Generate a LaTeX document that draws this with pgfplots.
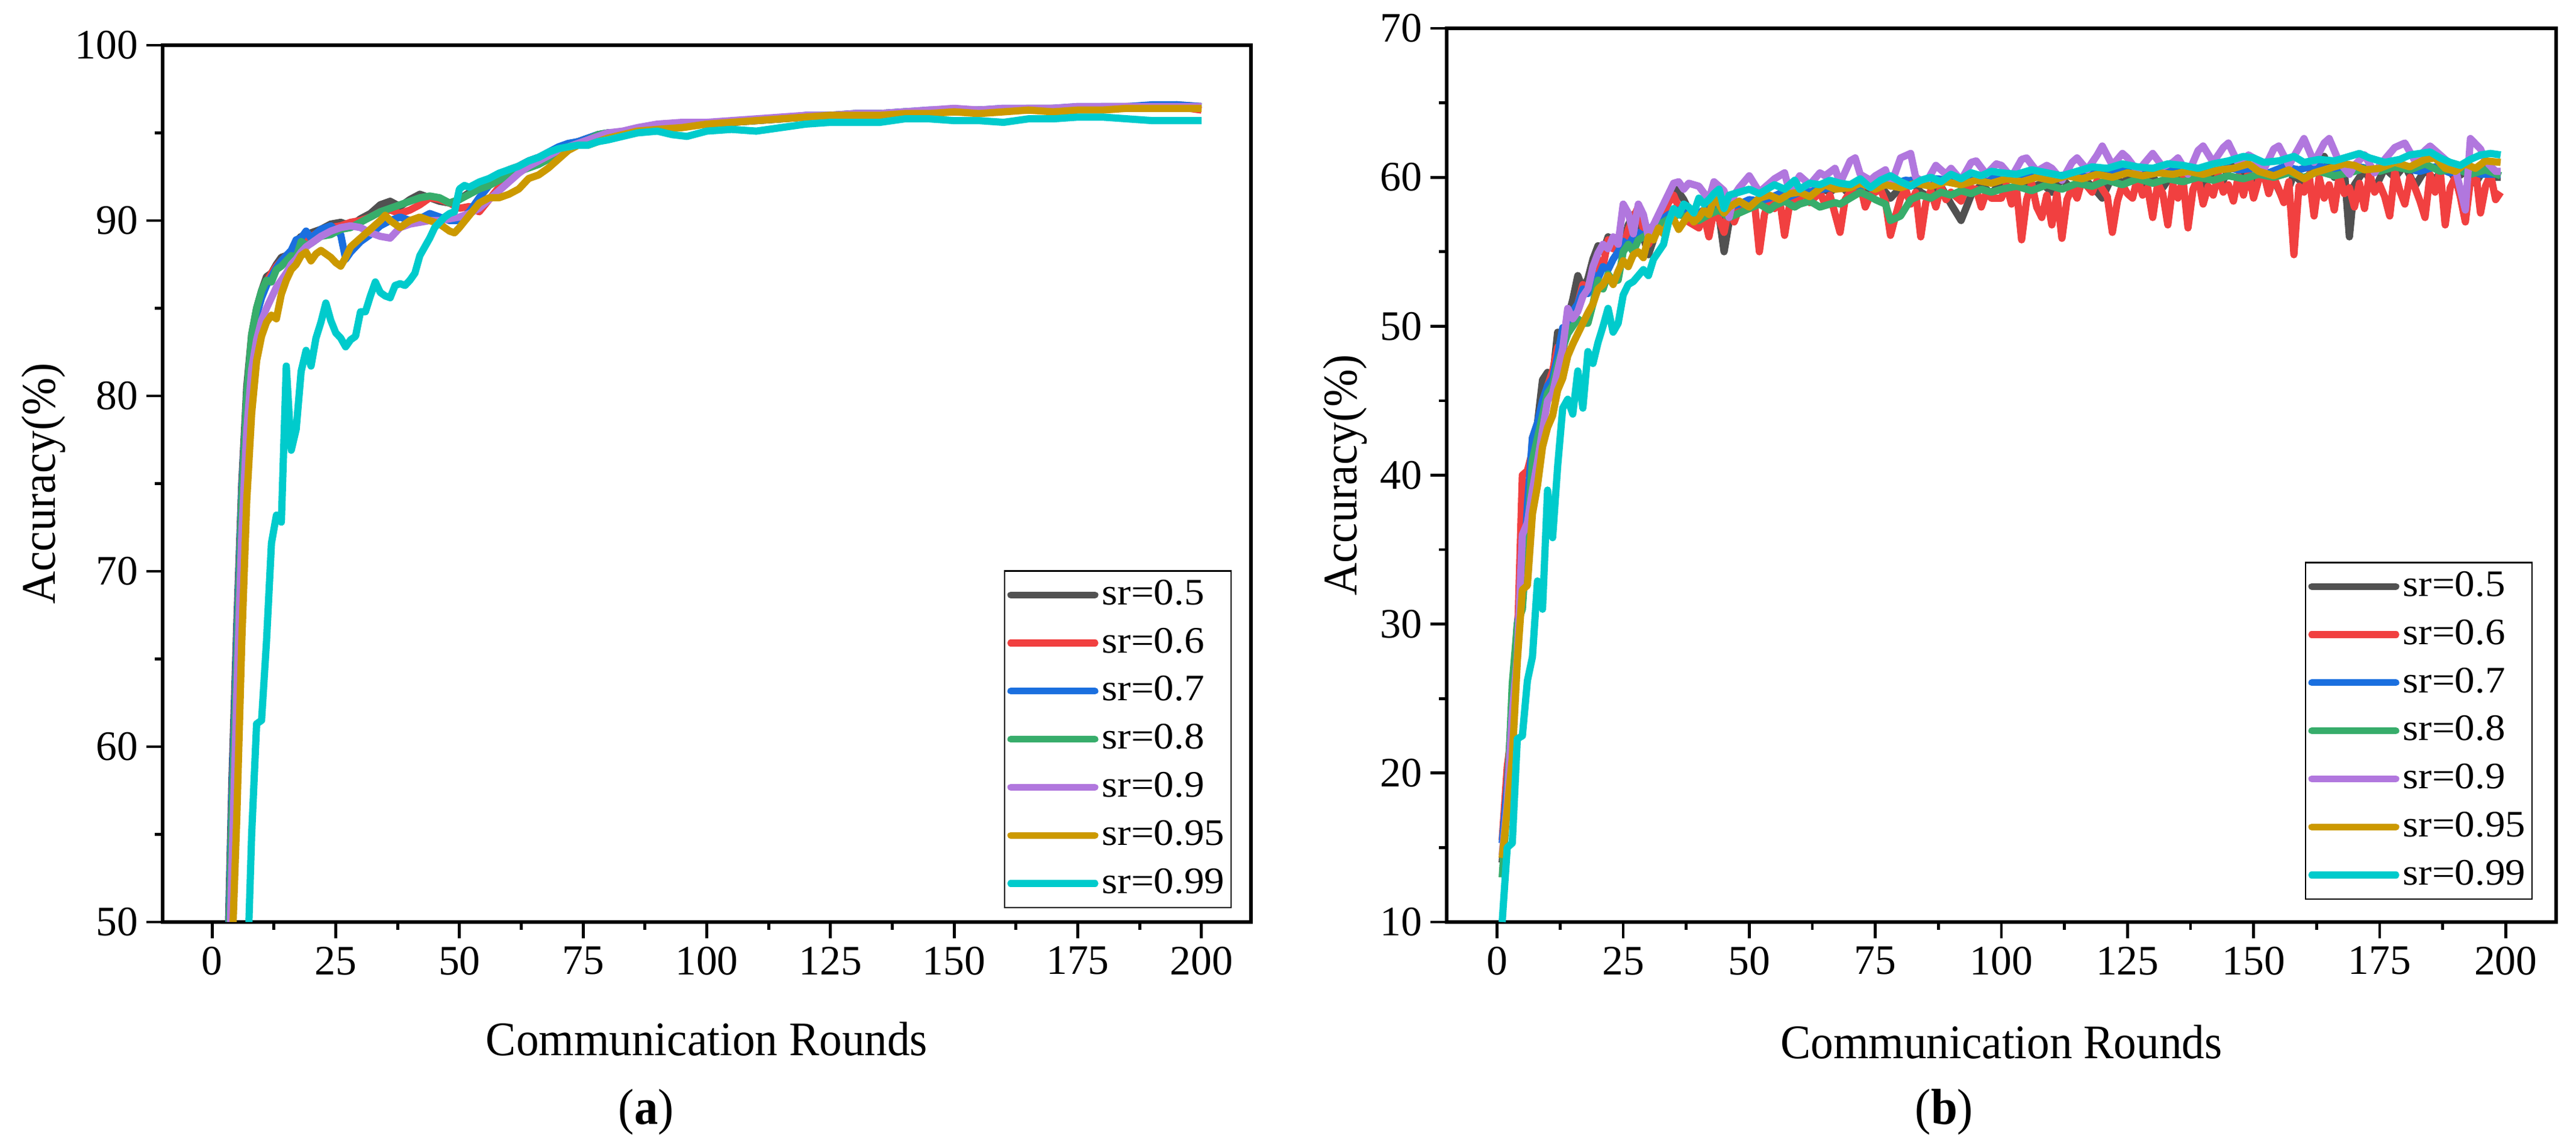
\documentclass[border=0pt]{standalone}
\usepackage{fontspec}
\setmainfont{Liberation Serif}
\newfontfamily\tickfont{Liberation Serif}
\newfontfamily\labfont{Liberation Serif}[FakeStretch=0.94]
\newfontfamily\legfont{Liberation Serif}[FakeStretch=1.08]
\usepackage{pgfplots}
\pgfplotsset{compat=1.18}
\definecolor{c1}{HTML}{515151}
\definecolor{c2}{HTML}{F14040}
\definecolor{c3}{HTML}{1A6FDF}
\definecolor{c4}{HTML}{37AD6B}
\definecolor{c5}{HTML}{B177DE}
\definecolor{c6}{HTML}{CC9900}
\definecolor{c7}{HTML}{00CBCC}
\pgfplotsset{
  myaxis/.style={
    scale only axis,
    xmin=-10, xmax=210,
    xtick={0,25,...,200},
    minor x tick num=1,
    minor y tick num=1,
    tick align=outside,
    tick pos=left,
    axis line style={line width=1.5pt},
    every tick/.style={black, line width=1.2pt},
    major tick length=6.7pt,
    minor tick length=3.3pt,
    /pgf/number format/assume math mode=true,
    tick label style={font=\tickfont\fontsize{17.4}{20}\selectfont},
    label style={font=\labfont\fontsize{20}{24}\selectfont},
    xlabel={Communication Rounds},
    ylabel={Accuracy(\%)},
    legend image code/.code={\draw[#1, line width=2.8pt, line cap=round] (0pt,0pt) -- (35pt,0pt);},
    legend style={draw=black, line width=0.6pt, font=\legfont\fontsize{15.5}{17}\selectfont,
      row sep=2.45pt, inner sep=1.2pt,
      nodes={inner sep=1.5pt, text height=11.3pt, text depth=3.2pt}},
    legend cell align=left,
    every axis plot/.append style={line width=3pt, line join=round},
  }
}
\begin{document}
\begin{tikzpicture}[x=1pt,y=1pt]
\useasboundingbox (0,0) rectangle (1069.25,474.75);
% ---------------- (a) ----------------
\begin{axis}[myaxis,
  at={(67.5pt,92.25pt)}, anchor=south west,
  width=451.75pt, height=363.75pt,
  ymin=50, ymax=100, ytick={50,60,...,100},
  xlabel style={at={(axis description cs:0.5,0)}, anchor=base, yshift=-55.5pt},
  ylabel style={at={(axis description cs:-0.1096,0.5)}, anchor=center},
  legend style={at={(1,0)}, anchor=south east, xshift=-8pt, yshift=5.75pt},
]
\addplot[c1] coordinates {(1,22)(2,34)(3,46)(4,58)(5,67)(6,75)(7,80.5)(8,83.5)(9,85)(10,86)(11,86.8)(12,87)(13,87.5)(14,87.9)(15,88)(16,88.1)(17,88.8)(18,89.1)(19,88.9)(20,89.3)(22,89.5)(24,89.8)(26,89.9)(28,89.7)(30,90.1)(32,90.4)(34,90.9)(36,91.1)(38,90.8)(40,91.2)(42,91.5)(44,91.3)(46,91.1)(48,91.0)(50,91.2)(52,91.6)(54,92.0)(56,92.3)(58,92.6)(60,92.9)(62,93.1)(64,93.4)(66,93.6)(68,93.8)(70,94.1)(72,94.3)(74,94.5)(76,94.7)(78,94.9)(80,95.0)(83,95.0)(86,95.2)(90,95.3)(95,95.5)(100,95.6)(105,95.6)(110,95.7)(115,95.8)(120,95.9)(125,96.0)(130,96.1)(135,96.1)(140,96.2)(145,96.2)(150,96.3)(155,96.3)(160,96.3)(165,96.4)(170,96.4)(175,96.4)(180,96.5)(185,96.5)(190,96.5)(195,96.6)(200,96.5)};
\addlegendentry{sr=0.5}
\addplot[c2] coordinates {(1,21)(2,33)(3,45)(4,57)(5,66)(6,74.5)(7,80)(8,83.3)(9,84.8)(10,85.8)(11,86.5)(12,87)(13,87.4)(14,87.7)(15,88)(16,88.2)(17,88.6)(18,88.9)(19,88.8)(20,89.1)(22,89.4)(24,89.6)(26,89.7)(28,89.9)(30,90.0)(32,90.2)(34,90.5)(36,90.6)(38,90.4)(40,90.6)(42,90.9)(44,91.3)(46,91.2)(48,91.0)(50,90.7)(52,90.8)(54,90.5)(56,91.2)(58,91.9)(60,92.5)(62,92.9)(64,93.2)(66,93.5)(68,93.8)(70,94.0)(72,94.3)(74,94.5)(76,94.6)(78,94.8)(80,95.0)(83,95.0)(86,95.2)(90,95.3)(95,95.4)(100,95.5)(105,95.6)(110,95.7)(115,95.8)(120,95.9)(125,96.0)(130,96.0)(135,96.1)(140,96.1)(145,96.2)(150,96.2)(155,96.3)(160,96.3)(165,96.3)(170,96.4)(175,96.4)(180,96.4)(185,96.5)(190,96.5)(195,96.5)(200,96.3)};
\addlegendentry{sr=0.6}
\addplot[c3] coordinates {(1,21)(2,33)(3,45)(4,57)(5,66)(6,74.5)(7,80)(8,83.2)(9,84.6)(10,85.6)(11,86.3)(12,86.8)(13,87.3)(14,87.7)(15,88)(16,88.3)(17,88.9)(18,89.0)(19,89.4)(20,89.0)(22,89.5)(24,89.7)(26,89.2)(27,87.8)(28,88.2)(30,88.8)(32,89.2)(34,89.7)(36,90.0)(38,90.2)(40,90.0)(42,90.1)(44,90.4)(46,90.2)(48,90.0)(50,90.0)(52,90.5)(54,91.3)(56,92.0)(58,92.5)(60,92.8)(62,93.1)(64,93.4)(66,93.6)(68,93.9)(70,94.2)(72,94.4)(74,94.5)(76,94.7)(78,94.9)(80,95.0)(83,95.0)(86,95.2)(90,95.4)(95,95.5)(100,95.6)(105,95.6)(110,95.7)(115,95.8)(120,96.0)(125,96.0)(130,96.1)(135,96.1)(140,96.2)(145,96.3)(150,96.3)(155,96.3)(160,96.4)(165,96.4)(170,96.4)(175,96.5)(180,96.5)(185,96.5)(190,96.6)(195,96.6)(200,96.5)};
\addlegendentry{sr=0.7}
\addplot[c4] coordinates {(1,20)(2,32)(3,44)(4,56)(5,65)(6,74)(7,80)(8,83.5)(9,85)(10,86)(11,86.6)(12,86.5)(13,87.2)(14,87.4)(15,87.7)(16,88)(17,87.9)(18,88.8)(19,88.6)(20,88.7)(22,89.1)(24,89.2)(26,89.5)(28,89.6)(30,89.9)(32,90.2)(34,90.5)(36,90.7)(38,90.9)(40,91.1)(42,91.3)(44,91.4)(46,91.3)(48,91.0)(50,91.2)(52,91.5)(54,91.8)(56,92.0)(58,92.3)(60,92.6)(62,92.8)(64,93.0)(66,93.2)(68,93.5)(70,93.9)(72,94.2)(74,94.4)(76,94.6)(78,94.9)(80,95.0)(83,95.0)(86,95.1)(90,95.3)(95,95.4)(100,95.5)(105,95.6)(110,95.7)(115,95.8)(120,95.9)(125,96.0)(130,96.0)(135,96.1)(140,96.1)(145,96.2)(150,96.2)(155,96.2)(160,96.3)(165,96.3)(170,96.3)(175,96.4)(180,96.4)(185,96.4)(190,96.5)(195,96.5)(200,96.4)};
\addlegendentry{sr=0.8}
\addplot[c5] coordinates {(1,18)(2,30)(3,42)(4,53)(5,63)(6,72)(7,78)(8,81.5)(9,83.2)(10,84.3)(11,85.0)(12,85.6)(13,86.2)(14,86.6)(15,87.0)(16,87.5)(17,87.8)(18,88.2)(19,88.5)(20,88.7)(22,89.1)(24,89.4)(26,89.6)(28,89.7)(30,89.6)(32,89.3)(34,89.1)(36,89.0)(38,89.6)(40,89.8)(42,89.9)(44,90.0)(46,90.0)(48,90.1)(50,90.2)(52,90.4)(54,90.7)(56,91.2)(58,91.7)(60,92.2)(62,92.7)(64,93.1)(66,93.4)(68,93.7)(70,94.0)(72,94.2)(74,94.4)(76,94.6)(78,94.8)(80,95.0)(83,95.1)(86,95.3)(90,95.5)(95,95.6)(100,95.6)(105,95.7)(110,95.8)(115,95.9)(120,96.0)(125,96.0)(130,96.1)(135,96.1)(140,96.2)(145,96.3)(150,96.4)(155,96.3)(160,96.4)(165,96.4)(170,96.4)(175,96.5)(180,96.5)(185,96.5)(190,96.5)(195,96.5)(200,96.5)};
\addlegendentry{sr=0.9}
\addplot[c6] coordinates {(1,15)(2,26)(3,38)(4,48)(5,56)(6,66)(7,74)(8,79)(9,82)(10,83.4)(11,84.2)(12,84.6)(13,84.4)(14,85.8)(15,86.6)(16,87.2)(17,87.5)(18,88.0)(19,88.2)(20,87.7)(21,88.1)(22,88.3)(23,88.1)(24,87.9)(25,87.6)(26,87.4)(27,87.9)(28,88.5)(30,89.0)(32,89.5)(34,90.0)(35,90.3)(36,90.0)(38,89.6)(40,90.0)(42,90.2)(44,90.0)(46,89.8)(48,89.4)(49,89.3)(50,89.6)(52,90.3)(54,91.0)(56,91.3)(58,91.3)(60,91.5)(62,91.8)(64,92.4)(66,92.6)(68,93.0)(70,93.5)(72,94.0)(74,94.3)(76,94.3)(78,94.5)(80,94.7)(83,94.9)(86,95.1)(90,95.2)(95,95.3)(100,95.5)(105,95.6)(110,95.7)(115,95.8)(120,95.9)(125,96.0)(130,96.0)(135,96.0)(140,96.1)(145,96.1)(150,96.2)(155,96.1)(160,96.2)(165,96.3)(170,96.2)(175,96.3)(180,96.3)(185,96.4)(190,96.4)(195,96.4)(200,96.4)};
\addlegendentry{sr=0.95}
\addplot[c7] coordinates {(1,10)(3,20)(5,32)(7,46)(8,55)(9,61.3)(10,61.5)(11,66)(12,71.6)(13,73.2)(14,72.8)(15,81.7)(16,76.9)(17,78.1)(18,81.4)(19,82.6)(20,81.7)(21,83.3)(22,84.2)(23,85.3)(24,84.3)(25,83.6)(26,83.3)(27,82.8)(28,83.2)(29,83.4)(30,84.8)(31,84.8)(32,85.7)(33,86.5)(34,85.9)(35,85.7)(36,85.6)(37,86.3)(38,86.4)(39,86.3)(40,86.6)(41,87.0)(42,88.0)(43,88.5)(44,89.0)(45,89.6)(46,89.9)(47,90.2)(48,90.4)(49,90.5)(50,91.8)(51,92.0)(52,91.9)(54,92.2)(56,92.4)(58,92.7)(60,92.9)(62,93.1)(64,93.4)(66,93.6)(68,93.9)(70,94.1)(72,94.2)(74,94.3)(76,94.3)(78,94.5)(80,94.6)(83,94.8)(86,95.0)(90,95.1)(93,94.9)(96,94.8)(100,95.1)(105,95.2)(110,95.1)(115,95.3)(120,95.5)(125,95.6)(130,95.6)(135,95.6)(140,95.8)(145,95.8)(150,95.7)(155,95.7)(160,95.6)(165,95.8)(170,95.8)(175,95.9)(180,95.9)(185,95.8)(190,95.7)(195,95.7)(200,95.7)};
\addlegendentry{sr=0.99}
\end{axis}
% ---------------- (b) ----------------
\begin{axis}[myaxis,
  at={(600.5pt,92.25pt)}, anchor=south west,
  width=460.5pt, height=370.75pt,
  ymin=10, ymax=70, ytick={10,20,...,70},
  xlabel style={at={(axis description cs:0.5,0)}, anchor=base, yshift=-56.5pt},
  ylabel style={at={(axis description cs:-0.0917,0.5)}, anchor=center},
  legend style={at={(1,0)}, anchor=south east, xshift=-9.75pt, yshift=9.25pt},
]
\addplot[c1] coordinates {(1,14)(2,19)(3,25)(4,30)(5,32.5)(6,37)(7,42.5)(8,43.5)(9,46.4)(10,46.9)(11,46.5)(12,49.6)(13,48.5)(14,50.5)(15,51.8)(16,53.4)(17,52.5)(18,53.2)(19,54.5)(20,55.4)(21,55.0)(22,56.0)(23,55.8)(24,56.0)(25,55.5)(26,56.8)(27,57.5)(28,57.0)(29,56.0)(30,54.8)(31,55.8)(32,56.8)(33,57.6)(34,58.6)(35,59.3)(36,59.0)(37,58.5)(38,57.8)(40,57.6)(42,58.0)(44,57.5)(45,55.0)(46,57.0)(48,58.2)(50,58.0)(52,58.6)(54,58.2)(56,58.9)(58,58.5)(60,59.1)(62,58.7)(64,59.3)(66,59.0)(68,59.5)(70,58.8)(72,59.6)(74,59.0)(76,59.4)(78,58.6)(80,59.3)(82,59.8)(84,59.0)(86,58.6)(88,59.4)(90,58.2)(92,57.1)(94,58.8)(96,59.5)(98,58.9)(100,59.7)(102,59.0)(104,59.8)(106,59.3)(108,59.6)(110,59.0)(112,59.9)(114,59.2)(116,60.0)(118,59.4)(120,58.6)(122,60.1)(124,59.6)(126,60.2)(128,59.5)(130,60.0)(132,59.3)(134,60.3)(136,59.7)(138,60.1)(140,59.5)(142,60.4)(144,59.8)(146,61.2)(148,60.3)(150,59.8)(152,60.5)(154,59.9)(156,58.4)(158,60.2)(160,59.5)(162,60.8)(164,61.4)(166,60.0)(168,60.5)(169,56.0)(170,59.5)(172,60.5)(174,59.2)(176,60.6)(178,60.0)(180,60.8)(182,59.4)(184,60.5)(186,59.8)(188,60.9)(190,59.9)(192,60.4)(194,59.6)(196,60.7)(198,60.0)(199,60.0)};
\addlegendentry{sr=0.5}
\addplot[c2] coordinates {(1,15.5)(2,20.4)(3,23)(4,28.5)(5,40)(6,40.3)(7,41.6)(8,42.5)(9,44.5)(10,46.0)(11,47.0)(12,48.6)(13,48.0)(14,50.7)(15,50.2)(16,51.5)(17,52.8)(18,52.2)(19,53.5)(20,54.5)(21,54.0)(22,55.8)(23,55.2)(24,56.0)(25,55.2)(26,56.5)(27,57.3)(28,58.0)(29,56.5)(30,55.5)(31,56.2)(32,57.0)(33,57.5)(34,58.3)(35,58.8)(36,58.0)(37,57.5)(38,57.0)(39,56.8)(40,56.6)(41,57.5)(42,56.0)(43,57.8)(44,57.2)(45,56.3)(46,58.0)(47,57.0)(48,57.9)(49,58.3)(50,57.9)(51,58.4)(52,55.0)(53,57.5)(54,58.5)(55,57.9)(56,58.6)(57,56.1)(58,58.2)(60,58.6)(61,59.0)(62,58.3)(64,59.0)(65,58.2)(66,58.8)(68,56.3)(69,58.5)(70,59.0)(72,59.5)(73,58.0)(74,58.8)(76,59.2)(77,58.4)(78,56.1)(79,57.4)(80,58.6)(81,59.2)(82,58.2)(83,59.0)(84,56.0)(85,58.3)(86,59.1)(87,58.0)(88,59.4)(89,58.5)(90,59.0)(92,58.4)(93,59.3)(95,59.2)(96,58.0)(97,59.0)(98,58.6)(100,58.6)(101,59.5)(102,58.2)(103,59.2)(104,55.8)(105,58.5)(106,59.6)(107,58.0)(108,57.3)(109,58.8)(110,56.8)(111,58.9)(112,55.9)(113,58.5)(114,59.3)(115,58.6)(116,59.8)(118,59.0)(119,59.8)(120,59.2)(121,58.7)(122,56.3)(123,58.4)(124,59.5)(125,58.9)(126,58.6)(127,60.0)(128,58.8)(129,59.3)(130,57.3)(131,59.6)(132,58.9)(133,56.8)(134,59.5)(135,58.6)(136,59.9)(137,56.6)(138,59.2)(139,60.0)(140,58.2)(141,59.4)(142,58.8)(143,60.2)(144,59.0)(145,59.5)(146,58.4)(147,60.1)(148,58.8)(149,60.4)(150,58.6)(151,59.8)(152,60.3)(153,58.9)(154,60.0)(155,59.2)(156,58.3)(157,59.7)(158,54.8)(159,59.4)(160,59.0)(161,60.2)(162,57.4)(163,60.0)(164,58.6)(165,59.5)(166,57.8)(167,60.1)(168,58.9)(169,59.3)(170,58.0)(171,59.6)(172,57.9)(173,60.3)(174,59.0)(175,59.5)(176,58.7)(177,57.4)(178,60.4)(179,59.1)(180,58.2)(181,60.0)(182,59.3)(183,58.4)(184,57.3)(185,60.2)(186,59.0)(187,60.5)(188,56.8)(189,59.3)(190,60.0)(191,58.7)(192,57.0)(193,59.8)(194,60.6)(195,57.6)(196,59.4)(197,60.2)(198,58.5)(199,59.0)};
\addlegendentry{sr=0.6}
\addplot[c3] coordinates {(1,15.3)(2,19.1)(3,24)(4,30)(5,31.5)(6,38)(7,42.5)(8,43.5)(9,45)(10,46)(11,46.5)(12,48)(13,49.9)(14,49.5)(15,51)(16,51.5)(17,52.5)(18,52.2)(19,53.5)(20,53.2)(21,54.0)(22,53.8)(23,54.5)(24,55.0)(25,55.7)(26,55.4)(27,56.0)(28,56.3)(29,56.0)(30,56.5)(32,57.0)(34,57.5)(36,57.8)(38,57.4)(40,57.6)(42,58.0)(44,58.3)(46,58.0)(48,58.2)(50,58.5)(52,58.4)(54,58.6)(56,58.9)(58,58.7)(60,59.0)(63,59.1)(66,59.3)(69,59.5)(72,59.4)(75,59.6)(78,59.5)(81,59.8)(84,59.7)(87,59.9)(90,59.8)(93,60.0)(96,60.1)(99,60.0)(102,60.2)(105,60.0)(108,60.3)(111,60.1)(114,60.2)(117,60.4)(120,60.2)(123,60.5)(126,60.3)(129,60.5)(132,60.4)(135,60.6)(138,60.4)(141,60.5)(144,60.7)(147,60.5)(150,60.6)(153,60.3)(156,60.7)(159,60.5)(162,60.8)(165,60.6)(168,60.4)(171,60.7)(174,60.5)(177,60.8)(180,60.6)(183,60.4)(186,60.7)(189,60.3)(192,60.6)(195,60.2)(199,60.2)};
\addlegendentry{sr=0.7}
\addplot[c4] coordinates {(1,13)(2,18)(3,26)(4,30)(5,31)(6,36)(7,41)(8,42.5)(9,44)(10,45.5)(11,46)(12,47.5)(13,48.5)(14,49.5)(15,50)(16,50.5)(17,50.2)(18,50.2)(19,51.5)(20,53.1)(21,52.5)(22,53.5)(23,53.0)(24,53.1)(25,55.0)(26,55.5)(27,55.0)(28,55.8)(30,56.2)(32,56.8)(34,57.2)(36,57.5)(38,57.3)(40,57.1)(42,57.5)(44,57.8)(46,57.3)(48,57.6)(50,57.9)(52,58.2)(54,57.8)(55,58.1)(57,58.4)(59,58.0)(60,58.2)(62,58.4)(64,58.0)(65,58.1)(67,58.3)(68,58.2)(70,58.6)(72,59.0)(74,58.7)(75,58.5)(77,58.2)(78,57.1)(80,57.4)(82,58.5)(84,58.8)(86,58.6)(88,59.0)(90,58.8)(92,59.1)(94,58.9)(96,59.2)(98,59.0)(100,59.2)(103,59.4)(106,59.1)(109,59.5)(112,59.2)(115,59.6)(118,59.4)(121,59.8)(124,59.5)(127,59.9)(130,59.6)(133,59.9)(136,59.7)(139,60.0)(142,59.8)(145,60.1)(148,59.9)(151,60.2)(154,60.0)(157,60.3)(160,60.0)(163,60.4)(166,60.1)(169,60.3)(172,60.6)(175,60.4)(178,60.7)(181,60.5)(184,60.9)(187,60.4)(190,60.6)(193,60.2)(196,60.5)(199,60.1)};
\addlegendentry{sr=0.8}
\addplot[c5] coordinates {(1,14.5)(2,18)(3,24)(4,27.8)(5,36)(6,36.8)(7,39)(8,40.9)(9,43)(10,45)(11,45.5)(12,47)(13,48.5)(14,51.2)(15,50.5)(16,51.0)(17,52.0)(18,52.5)(19,54.0)(20,54.9)(21,55.5)(22,55.2)(23,56.0)(24,55.5)(25,58.2)(26,57.6)(27,56.2)(28,58.2)(29,57.5)(30,56.0)(31,56.8)(32,57.5)(33,58.2)(34,58.9)(35,59.6)(36,59.7)(37,59.2)(38,59.6)(40,59.4)(42,58.5)(43,59.7)(45,59.1)(46,57.3)(47,58.8)(48,59.3)(50,60.1)(52,59.0)(54,59.6)(55,59.9)(57,60.3)(58,59.0)(60,60.1)(62,59.5)(64,60.3)(65,60.1)(67,60.6)(68,59.6)(70,61.1)(71,61.3)(72,60.2)(74,59.8)(75,60.1)(77,60.5)(78,59.4)(80,61.3)(82,61.6)(83,60.0)(85,59.6)(87,60.8)(89,60.2)(90,60.6)(92,59.8)(94,61.0)(95,61.1)(97,60.2)(99,60.9)(100,60.8)(102,60.0)(104,61.2)(105,61.3)(107,60.4)(109,60.8)(110,60.6)(112,59.8)(114,61.0)(115,61.3)(117,60.5)(119,61.5)(120,62.1)(122,60.8)(124,61.6)(125,61.3)(127,60.4)(129,61.2)(130,61.6)(132,60.7)(134,61.0)(135,61.3)(137,60.2)(139,61.8)(140,62.1)(142,61.0)(144,62.0)(145,62.3)(147,60.9)(149,61.5)(150,61.3)(152,60.5)(154,61.9)(155,62.1)(157,60.8)(159,62.0)(160,62.6)(162,61.0)(164,62.3)(165,62.6)(167,61.0)(169,60.2)(170,60.8)(172,61.5)(174,60.3)(175,60.8)(177,61.6)(178,62.0)(180,62.3)(182,61.1)(184,61.8)(185,62.1)(187,61.5)(189,60.9)(190,60.6)(192,57.8)(193,62.6)(195,61.9)(196,61.1)(198,60.4)(199,60.4)};
\addlegendentry{sr=0.9}
\addplot[c6] coordinates {(1,14.3)(2,17.5)(3,21)(4,27.5)(5,32.3)(6,32.6)(7,37.4)(8,39.3)(9,41.9)(10,43.2)(11,44.0)(12,45.7)(13,46.5)(14,48.0)(15,48.8)(16,49.5)(17,50.2)(18,50.9)(19,51.5)(20,52.5)(21,52.8)(22,53.4)(23,52.8)(24,53.7)(25,54.4)(26,54.0)(27,54.8)(28,55.0)(29,54.6)(30,56.0)(31,55.8)(32,56.6)(33,56.2)(34,57.0)(35,57.2)(36,56.5)(37,57.0)(38,57.5)(39,57.0)(40,57.3)(41,57.8)(42,57.5)(43,58.6)(44,58.2)(45,57.6)(46,58.0)(48,58.4)(50,58.0)(52,58.6)(54,58.8)(56,58.5)(58,58.9)(60,59.0)(62,58.7)(65,59.5)(67,59.2)(70,59.3)(72,59.6)(75,59.2)(77,59.5)(80,59.3)(83,59.6)(86,59.4)(89,59.7)(92,59.5)(95,59.8)(98,59.6)(101,59.9)(104,59.7)(107,60.0)(110,59.8)(113,60.1)(116,59.9)(119,60.2)(122,60.0)(125,60.3)(128,60.1)(131,60.3)(134,60.2)(137,60.4)(140,60.2)(143,60.5)(146,60.6)(149,60.9)(151,60.4)(154,60.1)(157,60.5)(160,59.9)(162,60.3)(165,60.6)(168,60.9)(170,60.8)(172,60.5)(175,60.6)(178,61.0)(181,60.7)(184,61.2)(186,61.3)(188,60.6)(190,60.4)(192,60.9)(194,60.6)(196,61.1)(199,61.0)};
\addlegendentry{sr=0.95}
\addplot[c7] coordinates {(1,10)(2,15)(3,15.3)(4,22.3)(5,22.5)(6,26.2)(7,27.8)(8,32.9)(9,31)(10,39)(11,35.8)(12,40.6)(13,44.5)(14,45.1)(15,44.1)(16,47.0)(17,44.5)(18,48.3)(19,47.5)(20,48.9)(21,50.0)(22,51.2)(23,49.6)(24,50.2)(25,52.1)(26,52.8)(27,53.0)(28,53.4)(29,53.8)(30,53.4)(31,54.5)(32,55.0)(33,55.5)(34,57.0)(35,57.9)(36,57.5)(37,58.2)(38,58.0)(39,57.6)(40,58.6)(41,58.2)(42,58.5)(43,58.9)(44,59.2)(45,57.9)(46,58.8)(48,59.0)(50,59.2)(52,58.9)(54,59.3)(55,59.5)(57,59.2)(59,59.8)(60,59.2)(62,59.6)(64,59.5)(66,59.8)(68,59.6)(70,59.5)(72,59.9)(74,59.3)(76,59.8)(78,60.1)(80,59.7)(82,59.4)(84,59.8)(86,60.0)(88,59.7)(90,60.2)(92,59.9)(94,60.3)(96,60.1)(98,60.4)(100,60.3)(103,60.2)(106,60.5)(109,60.3)(112,60.1)(115,60.4)(118,60.7)(121,60.6)(124,60.9)(127,60.7)(130,60.6)(133,60.9)(136,60.8)(139,60.6)(142,60.9)(145,61.1)(148,61.4)(150,61.3)(152,61.0)(155,61.1)(158,61.4)(160,61.0)(163,61.2)(166,61.1)(169,61.4)(171,61.6)(173,61.3)(176,61.0)(179,61.2)(181,61.5)(183,61.6)(185,61.7)(187,61.3)(189,61.0)(191,60.8)(193,61.2)(195,61.5)(197,61.6)(199,61.5)};
\addlegendentry{sr=0.99}
\end{axis}
\node[anchor=base, font=\labfont\fontsize{21}{24}\selectfont] at (268.25,8.5) {(\textbf{a})};
\node[anchor=base, font=\labfont\fontsize{21}{24}\selectfont] at (807,8.5) {(\textbf{b})};
\end{tikzpicture}
\end{document}
